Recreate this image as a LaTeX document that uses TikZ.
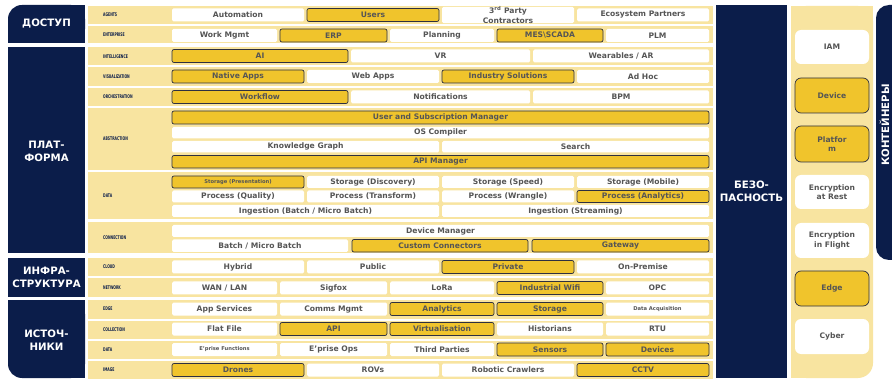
\documentclass[tikz,border=0pt]{standalone}
\usepackage{fontspec}
\usepackage{graphicx}
\setmainfont{DejaVu Sans}
\definecolor{navy}{HTML}{0B1D4A}
\definecolor{lband}{HTML}{F8E4A0}
\definecolor{ybox}{HTML}{F0C42C}
\definecolor{bord}{HTML}{2E3040}
\definecolor{txt}{HTML}{555555}
\newcommand\boxfont{\fontsize{7.6}{9.5}\selectfont\bfseries}
\newcommand\smallfont{\fontsize{5.2}{6}\selectfont\bfseries}
\newcommand\titlefont{\fontsize{10.2}{13}\selectfont\bfseries}
\newcommand\lbl[1]{\scalebox{0.62}[1]{\fontsize{5}{5}\selectfont\bfseries #1}}
\newcommand\cell[7]{\node[#1, minimum width={(#4)-(#3)}, minimum height={(#6)-(#5)}] (#2) at ({((#3)+(#4))/2},{((#5)+(#6))/2}) {#7};}
\tikzset{
  wb/.style={fill=white, rounded corners=1.5pt, inner sep=0pt, text=txt, font=\boxfont, align=center},
  yb/.style={fill=ybox, draw=bord, line width=0.7pt, rounded corners=2pt, inner sep=0pt, text=txt, font=\boxfont, align=center},
  wbs/.style={wb, font=\smallfont},
  ybs/.style={yb, font=\smallfont},
  band/.style={fill=lband},
  rowlbl/.style={anchor=west, inner sep=0pt, text=navy},
  title/.style={text=white, font=\titlefont, align=center, inner sep=0pt},
  sbw/.style={fill=white, rounded corners=6pt, inner sep=0pt, text=txt, font=\boxfont, align=center, minimum width=74pt},
  sby/.style={fill=ybox, draw=bord, line width=0.7pt, rounded corners=6pt, inner sep=0pt, text=txt, font=\boxfont, align=center, minimum width=74pt},
}
\begin{document}
\begin{tikzpicture}[x=1pt,y=-1pt]
\useasboundingbox (0,0) rectangle (892,382);
\fill[white] (0,0) rectangle (892,382);
% left navy blocks
\fill[navy, rounded corners=14pt] (8,5) rectangle (85,43);
\fill[navy] (30,5) rectangle (85,43);
\fill[navy] (8,25) rectangle (85,43);
\fill[navy] (8,47) rectangle (85,253);
\fill[navy] (8,258) rectangle (85,297);
\fill[navy, rounded corners=14pt] (8,300) rectangle (85,378);
\fill[navy] (30,300) rectangle (85,378);
\fill[navy] (8,300) rectangle (85,350);
\node[title] (tdostup) at (46.5,24) {ДОСТУП};
\node[title] (tplat) at (46.5,151) {ПЛАТ-\\ФОРМА};
\node[title] (tinfra) at (46.5,277.5) {ИНФРА-\\СТРУКТУРА};
\node[title] (tist) at (46.5,340) {ИСТОЧ-\\НИКИ};
% bands
\foreach \ya/\yb in {6/24, 26/43.5, 47/65.5, 67.5/86, 88/106, 108/170, 172.5/219.5, 222/253, 258/276.5, 278.5/297, 300/318.5, 320.5/338.5, 340.5/358.5, 360.5/378.5}
  \fill[band] (88,\ya) rectangle (713,\yb);
% row labels
\node[rowlbl] (lagents) at (103,15) {\lbl{AGENTS}};
\node[rowlbl] (lent) at (103,34.7) {\lbl{ENTERPRISE}};
\node[rowlbl] (lint) at (103,56.2) {\lbl{INTELLIGENCE}};
\node[rowlbl] (lvis) at (103,76.7) {\lbl{VISUALIZATION}};
\node[rowlbl] (lorch) at (103,97) {\lbl{ORCHESTRATION}};
\node[rowlbl] (labs) at (103,139) {\lbl{ABSTRACTION}};
\node[rowlbl] (ldata) at (103,196) {\lbl{DATA}};
\node[rowlbl] (lconn) at (103,238) {\lbl{CONNECTION}};
\node[rowlbl] (lcloud) at (103,267) {\lbl{CLOUD}};
\node[rowlbl] (lnet) at (103,288) {\lbl{NETWORK}};
\node[rowlbl] (ledge) at (103,309) {\lbl{EDGE}};
\node[rowlbl] (lcoll) at (103,329.5) {\lbl{COLLECTION}};
\node[rowlbl] (ldata2) at (103,349.5) {\lbl{DATA}};
\node[rowlbl] (limg) at (103,369.5) {\lbl{IMAGE}};
% AGENTS
\cell{wb}{a1}{172}{304}{8.5}{21.5}{Automation}
\cell{yb}{a2}{307}{439}{8.5}{21.5}{Users}
\cell{wb}{a3}{442}{574}{8.5}{21.5}{3\textsuperscript{rd} Party\\Contractors}
\cell{wb}{a4}{577}{709}{8.5}{21.5}{Ecosystem Partners}
% ENTERPRISE
\cell{wb}{e1}{172}{277}{29}{42}{Work Mgmt}
\cell{yb}{e2}{280}{387}{29}{42}{ERP}
\cell{wb}{e3}{390}{494}{29}{42}{Planning}
\cell{yb}{e4}{497}{603}{29}{42}{MES\textbackslash SCADA}
\cell{wb}{e5}{606}{709}{29}{42}{PLM}
% INTELLIGENCE
\cell{yb}{i1}{172}{348}{49.5}{62.5}{AI}
\cell{wb}{i2}{351}{530}{49.5}{62.5}{VR}
\cell{wb}{i3}{533}{709}{49.5}{62.5}{Wearables / AR}
% VISUALIZATION
\cell{yb}{v1}{172}{304}{70}{83}{Native Apps}
\cell{wb}{v2}{307}{439}{70}{83}{Web Apps}
\cell{yb}{v3}{442}{574}{70}{83}{Industry Solutions}
\cell{wb}{v4}{577}{709}{70}{83}{Ad Hoc}
% ORCHESTRATION
\cell{yb}{o1}{172}{348}{90.5}{103.5}{Workflow}
\cell{wb}{o2}{351}{530}{90.5}{103.5}{Notifications}
\cell{wb}{o3}{533}{709}{90.5}{103.5}{BPM}
% ABSTRACTION
\cell{yb}{ab1}{172}{709}{111}{124}{User and Subscription Manager}
\cell{wb}{ab2}{172}{709}{127}{138.5}{OS Compiler}
\cell{wb}{ab3}{172}{439}{141}{152.5}{Knowledge Graph}
\cell{wb}{ab4}{442}{709}{141}{152.5}{Search}
\cell{yb}{ab5}{172}{709}{155.5}{168}{API Manager}
% DATA
\cell{ybs}{d1}{172}{304}{176}{188}{Storage (Presentation)}
\cell{wb}{d2}{307}{439}{176}{188}{Storage (Discovery)}
\cell{wb}{d3}{442}{574}{176}{188}{Storage (Speed)}
\cell{wb}{d4}{577}{709}{176}{188}{Storage (Mobile)}
\cell{wb}{d5}{172}{304}{190.5}{202.5}{Process (Quality)}
\cell{wb}{d6}{307}{439}{190.5}{202.5}{Process (Transform)}
\cell{wb}{d7}{442}{574}{190.5}{202.5}{Process (Wrangle)}
\cell{yb}{d8}{577}{709}{190.5}{202.5}{Process (Analytics)}
\cell{wb}{d9}{172}{439}{205}{217}{Ingestion (Batch / Micro Batch)}
\cell{wb}{d10}{442}{709}{205}{217}{Ingestion (Streaming)}
% CONNECTION
\cell{wb}{c1}{172}{709}{225}{237}{Device Manager}
\cell{wb}{c2}{172}{348}{239.5}{252}{Batch / Micro Batch}
\cell{yb}{c3}{352}{528}{239.5}{252}{Custom Connectors}
\cell{yb}{c4}{532}{709}{239.5}{252}{Gateway}
% CLOUD
\cell{wb}{cl1}{172}{304}{260.5}{273.5}{Hybrid}
\cell{wb}{cl2}{307}{439}{260.5}{273.5}{Public}
\cell{yb}{cl3}{442}{574}{260.5}{273.5}{Private}
\cell{wb}{cl4}{577}{709}{260.5}{273.5}{On-Premise}
% NETWORK
\cell{wb}{n1}{172}{277}{281.5}{294.5}{WAN / LAN}
\cell{wb}{n2}{280}{387}{281.5}{294.5}{Sigfox}
\cell{wb}{n3}{390}{494}{281.5}{294.5}{LoRa}
\cell{yb}{n4}{497}{603}{281.5}{294.5}{Industrial Wifi}
\cell{wb}{n5}{606}{709}{281.5}{294.5}{OPC}
% EDGE
\cell{wb}{g1}{172}{277}{302.5}{315.5}{App Services}
\cell{wb}{g2}{280}{387}{302.5}{315.5}{Comms Mgmt}
\cell{yb}{g3}{390}{494}{302.5}{315.5}{Analytics}
\cell{yb}{g4}{497}{603}{302.5}{315.5}{Storage}
\cell{wbs}{g5}{606}{709}{302.5}{315.5}{Data Acquisition}
% COLLECTION
\cell{wb}{co1}{172}{277}{322.5}{335.5}{Flat File}
\cell{yb}{co2}{280}{387}{322.5}{335.5}{API}
\cell{yb}{co3}{390}{494}{322.5}{335.5}{Virtualisation}
\cell{wb}{co4}{497}{603}{322.5}{335.5}{Historians}
\cell{wb}{co5}{606}{709}{322.5}{335.5}{RTU}
% DATA (sources)
\cell{wbs}{s1}{172}{277}{343}{356}{E’prise Functions}
\cell{wb}{s2}{280}{387}{343}{356}{E’prise Ops}
\cell{wb}{s3}{390}{494}{343}{356}{Third Parties}
\cell{yb}{s4}{497}{603}{343}{356}{Sensors}
\cell{yb}{s5}{606}{709}{343}{356}{Devices}
% IMAGE
\cell{yb}{im1}{172}{304}{363.5}{376.5}{Drones}
\cell{wb}{im2}{307}{439}{363.5}{376.5}{ROVs}
\cell{wb}{im3}{442}{574}{363.5}{376.5}{Robotic Crawlers}
\cell{yb}{im4}{577}{709}{363.5}{376.5}{CCTV}
% security column
\fill[navy] (716,5) rectangle (787,378);
\node[title] (tsec) at (751.5,191) {БЕЗО-\\ПАСНОСТЬ};
% right yellow panel
\fill[band, rounded corners=15pt] (791,6) rectangle (873,378);
\fill[band] (791,6) rectangle (873,340);
\fill[band] (791,6) rectangle (840,378);
\cell{sbw}{r1}{795}{869}{30}{64}{IAM}
\cell{sby}{r2}{795}{869}{78}{113}{Device}
\cell{sby}{r3}{795}{869}{126}{162}{Platfor\\m}
\cell{sbw}{r4}{795}{869}{175}{209}{Encryption\\at Rest}
\cell{sbw}{r5}{795}{869}{223}{258}{Encryption\\in Flight}
\cell{sby}{r6}{795}{869}{271}{306}{Edge}
\cell{sbw}{r7}{795}{869}{319}{354}{Cyber}
% containers
\fill[navy, rounded corners=13pt] (876,5) rectangle (910,260);
\node[title, rotate=90] (tcont) at (884.5,125) {КОНТЕЙНЕРЫ};
\end{tikzpicture}
\end{document}
